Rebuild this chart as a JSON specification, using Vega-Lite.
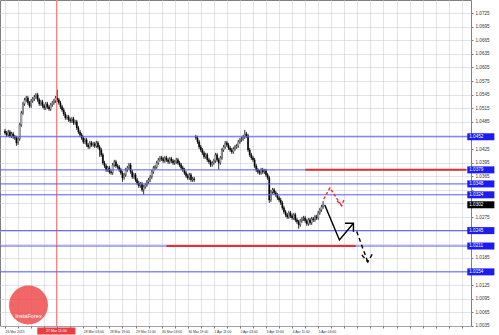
{
"$schema": "https://vega.github.io/schema/vega-lite/v6.json",
"width": 471, "height": 326,
"autosize": {"type": "none"},
"padding": {"left": 0, "top": 0, "right": 28, "bottom": 9},
"background": "#ffffff",
"config": {"view": {"stroke": "#808080", "strokeWidth": 1}, "font": "Liberation Sans",
"axis": {"labelOverlap": false, "labelFlush": false, "labelBound": false, "title": null}},
"datasets": {
"one": [{"n": 1}],
"candles": [
{"i":0,"o":1.04650,"h":1.04694,"l":1.04562,"c":1.04606},
{"i":1,"o":1.04606,"h":1.04650,"l":1.04518,"c":1.04562},
{"i":2,"o":1.04562,"h":1.04672,"l":1.04518,"c":1.04628},
{"i":3,"o":1.04628,"h":1.04672,"l":1.04496,"c":1.04540},
{"i":4,"o":1.04540,"h":1.04628,"l":1.04496,"c":1.04584},
{"i":5,"o":1.04584,"h":1.04628,"l":1.04474,"c":1.04518},
{"i":6,"o":1.04518,"h":1.04562,"l":1.04452,"c":1.04496},
{"i":7,"o":1.04496,"h":1.04540,"l":1.04319,"c":1.04386},
{"i":8,"o":1.04386,"h":1.04518,"l":1.04341,"c":1.04474},
{"i":9,"o":1.04474,"h":1.04827,"l":1.04430,"c":1.04783},
{"i":10,"o":1.04783,"h":1.05091,"l":1.04738,"c":1.05047},
{"i":11,"o":1.05047,"h":1.05290,"l":1.05003,"c":1.05246},
{"i":12,"o":1.05246,"h":1.05378,"l":1.05202,"c":1.05334},
{"i":13,"o":1.05334,"h":1.05422,"l":1.05290,"c":1.05378},
{"i":14,"o":1.05378,"h":1.05422,"l":1.05224,"c":1.05268},
{"i":15,"o":1.05268,"h":1.05312,"l":1.05158,"c":1.05202},
{"i":16,"o":1.05202,"h":1.05356,"l":1.05158,"c":1.05312},
{"i":17,"o":1.05312,"h":1.05400,"l":1.05268,"c":1.05356},
{"i":18,"o":1.05356,"h":1.05444,"l":1.05312,"c":1.05400},
{"i":19,"o":1.05400,"h":1.05488,"l":1.05356,"c":1.05444},
{"i":20,"o":1.05444,"h":1.05488,"l":1.05290,"c":1.05334},
{"i":21,"o":1.05334,"h":1.05378,"l":1.05202,"c":1.05246},
{"i":22,"o":1.05246,"h":1.05334,"l":1.05202,"c":1.05290},
{"i":23,"o":1.05290,"h":1.05334,"l":1.05158,"c":1.05202},
{"i":24,"o":1.05202,"h":1.05246,"l":1.05113,"c":1.05158},
{"i":25,"o":1.05158,"h":1.05290,"l":1.05113,"c":1.05246},
{"i":26,"o":1.05246,"h":1.05290,"l":1.05135,"c":1.05180},
{"i":27,"o":1.05180,"h":1.05224,"l":1.05091,"c":1.05135},
{"i":28,"o":1.05135,"h":1.05268,"l":1.05091,"c":1.05224},
{"i":29,"o":1.05224,"h":1.05312,"l":1.05180,"c":1.05268},
{"i":30,"o":1.05268,"h":1.05356,"l":1.05224,"c":1.05312},
{"i":31,"o":1.05312,"h":1.05422,"l":1.05268,"c":1.05378},
{"i":32,"o":1.05378,"h":1.05555,"l":1.05290,"c":1.05334},
{"i":33,"o":1.05334,"h":1.05378,"l":1.05224,"c":1.05268},
{"i":34,"o":1.05268,"h":1.05312,"l":1.05135,"c":1.05180},
{"i":35,"o":1.05180,"h":1.05224,"l":1.05069,"c":1.05113},
{"i":36,"o":1.05113,"h":1.05158,"l":1.04981,"c":1.05025},
{"i":37,"o":1.05025,"h":1.05069,"l":1.04893,"c":1.04937},
{"i":38,"o":1.04937,"h":1.05003,"l":1.04893,"c":1.04959},
{"i":39,"o":1.04959,"h":1.05003,"l":1.04849,"c":1.04893},
{"i":40,"o":1.04893,"h":1.04937,"l":1.04827,"c":1.04871},
{"i":41,"o":1.04871,"h":1.04959,"l":1.04827,"c":1.04915},
{"i":42,"o":1.04915,"h":1.04959,"l":1.04783,"c":1.04827},
{"i":43,"o":1.04827,"h":1.04893,"l":1.04783,"c":1.04849},
{"i":44,"o":1.04849,"h":1.04893,"l":1.04672,"c":1.04716},
{"i":45,"o":1.04716,"h":1.04761,"l":1.04584,"c":1.04628},
{"i":46,"o":1.04628,"h":1.04672,"l":1.04518,"c":1.04562},
{"i":47,"o":1.04562,"h":1.04606,"l":1.04452,"c":1.04496},
{"i":48,"o":1.04496,"h":1.04540,"l":1.04364,"c":1.04408},
{"i":49,"o":1.04408,"h":1.04496,"l":1.04364,"c":1.04452},
{"i":50,"o":1.04452,"h":1.04496,"l":1.04297,"c":1.04341},
{"i":51,"o":1.04341,"h":1.04386,"l":1.04253,"c":1.04297},
{"i":52,"o":1.04297,"h":1.04430,"l":1.04253,"c":1.04386},
{"i":53,"o":1.04386,"h":1.04430,"l":1.04297,"c":1.04341},
{"i":54,"o":1.04341,"h":1.04408,"l":1.04297,"c":1.04364},
{"i":55,"o":1.04364,"h":1.04408,"l":1.04275,"c":1.04319},
{"i":56,"o":1.04319,"h":1.04430,"l":1.04275,"c":1.04386},
{"i":57,"o":1.04386,"h":1.04430,"l":1.04253,"c":1.04297},
{"i":58,"o":1.04297,"h":1.04341,"l":1.04077,"c":1.04231},
{"i":59,"o":1.04231,"h":1.04275,"l":1.04077,"c":1.04121},
{"i":60,"o":1.04121,"h":1.04165,"l":1.03900,"c":1.03944},
{"i":61,"o":1.03944,"h":1.03989,"l":1.03834,"c":1.03878},
{"i":62,"o":1.03878,"h":1.03922,"l":1.03746,"c":1.03790},
{"i":63,"o":1.03790,"h":1.03878,"l":1.03746,"c":1.03834},
{"i":64,"o":1.03834,"h":1.03878,"l":1.03702,"c":1.03746},
{"i":65,"o":1.03746,"h":1.03790,"l":1.03680,"c":1.03724},
{"i":66,"o":1.03724,"h":1.03944,"l":1.03680,"c":1.03900},
{"i":67,"o":1.03900,"h":1.04011,"l":1.03856,"c":1.03967},
{"i":68,"o":1.03967,"h":1.04011,"l":1.03834,"c":1.03878},
{"i":69,"o":1.03878,"h":1.03922,"l":1.03812,"c":1.03856},
{"i":70,"o":1.03856,"h":1.03900,"l":1.03746,"c":1.03790},
{"i":71,"o":1.03790,"h":1.03834,"l":1.03680,"c":1.03724},
{"i":72,"o":1.03724,"h":1.03768,"l":1.03525,"c":1.03614},
{"i":73,"o":1.03614,"h":1.03724,"l":1.03570,"c":1.03680},
{"i":74,"o":1.03680,"h":1.03834,"l":1.03636,"c":1.03790},
{"i":75,"o":1.03790,"h":1.03878,"l":1.03746,"c":1.03834},
{"i":76,"o":1.03834,"h":1.03944,"l":1.03790,"c":1.03900},
{"i":77,"o":1.03900,"h":1.03944,"l":1.03702,"c":1.03746},
{"i":78,"o":1.03746,"h":1.03790,"l":1.03592,"c":1.03636},
{"i":79,"o":1.03636,"h":1.03724,"l":1.03592,"c":1.03680},
{"i":80,"o":1.03680,"h":1.03724,"l":1.03525,"c":1.03570},
{"i":81,"o":1.03570,"h":1.03614,"l":1.03459,"c":1.03503},
{"i":82,"o":1.03503,"h":1.03547,"l":1.03393,"c":1.03437},
{"i":83,"o":1.03437,"h":1.03525,"l":1.03393,"c":1.03481},
{"i":84,"o":1.03481,"h":1.03525,"l":1.03305,"c":1.03349},
{"i":85,"o":1.03349,"h":1.03459,"l":1.03239,"c":1.03415},
{"i":86,"o":1.03415,"h":1.03503,"l":1.03371,"c":1.03459},
{"i":87,"o":1.03459,"h":1.03570,"l":1.03415,"c":1.03525},
{"i":88,"o":1.03525,"h":1.03614,"l":1.03481,"c":1.03570},
{"i":89,"o":1.03570,"h":1.03680,"l":1.03525,"c":1.03636},
{"i":90,"o":1.03636,"h":1.03790,"l":1.03592,"c":1.03746},
{"i":91,"o":1.03746,"h":1.03878,"l":1.03702,"c":1.03834},
{"i":92,"o":1.03834,"h":1.03900,"l":1.03790,"c":1.03856},
{"i":93,"o":1.03856,"h":1.03989,"l":1.03812,"c":1.03944},
{"i":94,"o":1.03944,"h":1.04055,"l":1.03900,"c":1.04011},
{"i":95,"o":1.04011,"h":1.04099,"l":1.03967,"c":1.04055},
{"i":96,"o":1.04055,"h":1.04099,"l":1.03989,"c":1.04033},
{"i":97,"o":1.04033,"h":1.04077,"l":1.03944,"c":1.03989},
{"i":98,"o":1.03989,"h":1.04099,"l":1.03944,"c":1.04055},
{"i":99,"o":1.04055,"h":1.04099,"l":1.03967,"c":1.04011},
{"i":100,"o":1.04011,"h":1.04055,"l":1.03922,"c":1.03967},
{"i":101,"o":1.03967,"h":1.04077,"l":1.03922,"c":1.04033},
{"i":102,"o":1.04033,"h":1.04077,"l":1.03944,"c":1.03989},
{"i":103,"o":1.03989,"h":1.04033,"l":1.03900,"c":1.03944},
{"i":104,"o":1.03944,"h":1.04011,"l":1.03900,"c":1.03967},
{"i":105,"o":1.03967,"h":1.04055,"l":1.03922,"c":1.04011},
{"i":106,"o":1.04011,"h":1.04055,"l":1.03900,"c":1.03944},
{"i":107,"o":1.03944,"h":1.03989,"l":1.03856,"c":1.03900},
{"i":108,"o":1.03900,"h":1.03944,"l":1.03790,"c":1.03834},
{"i":109,"o":1.03834,"h":1.03878,"l":1.03746,"c":1.03790},
{"i":110,"o":1.03790,"h":1.03834,"l":1.03680,"c":1.03724},
{"i":111,"o":1.03724,"h":1.03768,"l":1.03614,"c":1.03658},
{"i":112,"o":1.03658,"h":1.03702,"l":1.03570,"c":1.03614},
{"i":113,"o":1.03614,"h":1.03724,"l":1.03570,"c":1.03680},
{"i":114,"o":1.03680,"h":1.03724,"l":1.03525,"c":1.03570},
{"i":115,"o":1.03570,"h":1.03636,"l":1.03525,"c":1.03592},
{"i":116,"o":1.03592,"h":1.03636,"l":1.03525,"c":1.03570},
{"i":117,"o":1.04518,"h":1.04562,"l":1.04452,"c":1.04496},
{"i":118,"o":1.04496,"h":1.04540,"l":1.04364,"c":1.04408},
{"i":119,"o":1.04408,"h":1.04452,"l":1.04253,"c":1.04297},
{"i":120,"o":1.04297,"h":1.04341,"l":1.04187,"c":1.04231},
{"i":121,"o":1.04231,"h":1.04275,"l":1.04121,"c":1.04165},
{"i":122,"o":1.04165,"h":1.04209,"l":1.04033,"c":1.04077},
{"i":123,"o":1.04077,"h":1.04165,"l":1.04033,"c":1.04121},
{"i":124,"o":1.04121,"h":1.04165,"l":1.03967,"c":1.04011},
{"i":125,"o":1.04011,"h":1.04055,"l":1.03922,"c":1.03967},
{"i":126,"o":1.03967,"h":1.04011,"l":1.03856,"c":1.03900},
{"i":127,"o":1.03900,"h":1.03989,"l":1.03856,"c":1.03944},
{"i":128,"o":1.03944,"h":1.04033,"l":1.03900,"c":1.03989},
{"i":129,"o":1.03989,"h":1.04165,"l":1.03944,"c":1.04121},
{"i":130,"o":1.04121,"h":1.04165,"l":1.03967,"c":1.04011},
{"i":131,"o":1.04011,"h":1.04055,"l":1.03790,"c":1.03944},
{"i":132,"o":1.03944,"h":1.04099,"l":1.03900,"c":1.04055},
{"i":133,"o":1.04055,"h":1.04275,"l":1.04011,"c":1.04231},
{"i":134,"o":1.04231,"h":1.04341,"l":1.04187,"c":1.04297},
{"i":135,"o":1.04297,"h":1.04430,"l":1.04253,"c":1.04386},
{"i":136,"o":1.04386,"h":1.04430,"l":1.04297,"c":1.04341},
{"i":137,"o":1.04341,"h":1.04386,"l":1.04231,"c":1.04275},
{"i":138,"o":1.04275,"h":1.04319,"l":1.04187,"c":1.04231},
{"i":139,"o":1.04231,"h":1.04275,"l":1.04143,"c":1.04187},
{"i":140,"o":1.04187,"h":1.04297,"l":1.04143,"c":1.04253},
{"i":141,"o":1.04253,"h":1.04341,"l":1.04209,"c":1.04297},
{"i":142,"o":1.04297,"h":1.04364,"l":1.04253,"c":1.04319},
{"i":143,"o":1.04319,"h":1.04452,"l":1.04275,"c":1.04408},
{"i":144,"o":1.04408,"h":1.04496,"l":1.04364,"c":1.04452},
{"i":145,"o":1.04452,"h":1.04518,"l":1.04408,"c":1.04474},
{"i":146,"o":1.04474,"h":1.04562,"l":1.04430,"c":1.04518},
{"i":147,"o":1.04518,"h":1.04672,"l":1.04474,"c":1.04584},
{"i":148,"o":1.04584,"h":1.04628,"l":1.04496,"c":1.04540},
{"i":149,"o":1.04540,"h":1.04584,"l":1.04187,"c":1.04231},
{"i":150,"o":1.04231,"h":1.04275,"l":1.04077,"c":1.04121},
{"i":151,"o":1.04121,"h":1.04165,"l":1.04011,"c":1.04055},
{"i":152,"o":1.04055,"h":1.04099,"l":1.03967,"c":1.04011},
{"i":153,"o":1.04011,"h":1.04055,"l":1.03834,"c":1.03878},
{"i":154,"o":1.03878,"h":1.03922,"l":1.03746,"c":1.03790},
{"i":155,"o":1.03790,"h":1.03834,"l":1.03702,"c":1.03746},
{"i":156,"o":1.03746,"h":1.03790,"l":1.03680,"c":1.03724},
{"i":157,"o":1.03724,"h":1.03834,"l":1.03680,"c":1.03790},
{"i":158,"o":1.03790,"h":1.03834,"l":1.03702,"c":1.03746},
{"i":159,"o":1.03746,"h":1.03812,"l":1.03702,"c":1.03768},
{"i":160,"o":1.03768,"h":1.03812,"l":1.03636,"c":1.03680},
{"i":161,"o":1.03680,"h":1.03724,"l":1.03570,"c":1.03614},
{"i":162,"o":1.03614,"h":1.03658,"l":1.03062,"c":1.03128},
{"i":163,"o":1.03128,"h":1.03349,"l":1.03084,"c":1.03305},
{"i":164,"o":1.03305,"h":1.03393,"l":1.03261,"c":1.03349},
{"i":165,"o":1.03349,"h":1.03393,"l":1.03239,"c":1.03283},
{"i":166,"o":1.03283,"h":1.03327,"l":1.03195,"c":1.03239},
{"i":167,"o":1.03239,"h":1.03283,"l":1.03128,"c":1.03173},
{"i":168,"o":1.03173,"h":1.03217,"l":1.03084,"c":1.03128},
{"i":169,"o":1.03128,"h":1.03173,"l":1.03018,"c":1.03062},
{"i":170,"o":1.03062,"h":1.03106,"l":1.02908,"c":1.02952},
{"i":171,"o":1.02952,"h":1.02996,"l":1.02820,"c":1.02864},
{"i":172,"o":1.02864,"h":1.02908,"l":1.02753,"c":1.02798},
{"i":173,"o":1.02798,"h":1.02842,"l":1.02709,"c":1.02753},
{"i":174,"o":1.02753,"h":1.02886,"l":1.02709,"c":1.02842},
{"i":175,"o":1.02842,"h":1.02886,"l":1.02731,"c":1.02776},
{"i":176,"o":1.02776,"h":1.02820,"l":1.02687,"c":1.02731},
{"i":177,"o":1.02731,"h":1.02842,"l":1.02687,"c":1.02798},
{"i":178,"o":1.02798,"h":1.02842,"l":1.02643,"c":1.02687},
{"i":179,"o":1.02687,"h":1.02731,"l":1.02599,"c":1.02643},
{"i":180,"o":1.02643,"h":1.02687,"l":1.02489,"c":1.02577},
{"i":181,"o":1.02577,"h":1.02709,"l":1.02533,"c":1.02665},
{"i":182,"o":1.02665,"h":1.02753,"l":1.02621,"c":1.02709},
{"i":183,"o":1.02709,"h":1.02776,"l":1.02665,"c":1.02731},
{"i":184,"o":1.02731,"h":1.02776,"l":1.02621,"c":1.02665},
{"i":185,"o":1.02665,"h":1.02709,"l":1.02555,"c":1.02599},
{"i":186,"o":1.02599,"h":1.02731,"l":1.02555,"c":1.02687},
{"i":187,"o":1.02687,"h":1.02731,"l":1.02577,"c":1.02621},
{"i":188,"o":1.02621,"h":1.02753,"l":1.02577,"c":1.02709},
{"i":189,"o":1.02709,"h":1.02753,"l":1.02643,"c":1.02687},
{"i":190,"o":1.02687,"h":1.02798,"l":1.02643,"c":1.02753},
{"i":191,"o":1.02753,"h":1.02798,"l":1.02687,"c":1.02731},
{"i":192,"o":1.02731,"h":1.02886,"l":1.02687,"c":1.02842},
{"i":193,"o":1.02842,"h":1.02952,"l":1.02798,"c":1.02908},
{"i":194,"o":1.02908,"h":1.03018,"l":1.02864,"c":1.02974},
{"i":195,"o":1.02974,"h":1.03106,"l":1.02930,"c":1.03018}
],
"levels": [
{"p":1.0452,"kind":"blue"},
{"p":1.0379,"kind":"blue"},
{"p":1.0348,"kind":"blue"},
{"p":1.0324,"kind":"blue"},
{"p":1.0245,"kind":"blue"},
{"p":1.0211,"kind":"blue"},
{"p":1.0154,"kind":"blue"},
{"p":1.0302,"kind":"bid"}
],
"reds": [
{"i1":184.2,"i2":282.6,"p":1.0379},
{"i1":99,"i2":215,"p":1.0211}
],
"arrows": [
{"g":"red","s":1,"k":1,"i":195.4,"p":1.03144},
{"g":"red","s":1,"k":2,"i":199.2,"p":1.03393},
{"g":"red","s":1,"k":3,"i":206.4,"p":1.02996},
{"g":"red","s":2,"k":1,"i":203.6,"p":1.03106},
{"g":"red","s":2,"k":2,"i":206.4,"p":1.02996},
{"g":"red","s":2,"k":3,"i":208.0,"p":1.03150},
{"g":"black","s":3,"k":1,"i":196,"p":1.03018},
{"g":"black","s":3,"k":2,"i":205,"p":1.02243},
{"g":"black","s":3,"k":3,"i":213.6,"p":1.02614},
{"g":"black","s":4,"k":1,"i":208.4,"p":1.02614},
{"g":"black","s":4,"k":2,"i":213.6,"p":1.02614},
{"g":"black","s":4,"k":3,"i":213.6,"p":1.02423},
{"g":"blackdash","s":5,"k":1,"i":215.6,"p":1.02430},
{"g":"blackdash","s":5,"k":2,"i":222.4,"p":1.01757},
{"g":"blackdash","s":6,"k":1,"i":218.8,"p":1.01912},
{"g":"blackdash","s":6,"k":2,"i":222.4,"p":1.01757},
{"g":"blackdash","s":6,"k":3,"i":225.6,"p":1.01963}
]
},
"layer": [
{
"data": {"name": "candles"},
"mark": {"type": "rule", "color": "#000000", "strokeWidth": 0.8},
"encoding": {
"x": {"field": "i", "type": "quantitative",
"scale": {"domain": [0, 282.6], "nice": false, "zero": false},
"axis": {"values": [0,8,16,24,32,40,48,56,64,72,80,88,96,104,112,120,128,136,144,152,160,168,176,184,192,200,208,216,224,232,240,248,256,264,272,280],
"tickCount": 200,
"labelExpr": "datum.value == 0 ? '26 Mar 2015' : datum.value == 48 ? '28 Mar 03:00' : datum.value == 64 ? '28 Mar 19:00' : datum.value == 80 ? '29 Mar 11:00' : datum.value == 96 ? '30 Mar 03:00' : datum.value == 112 ? '30 Mar 19:00' : datum.value == 128 ? '1 Apr 11:00' : datum.value == 144 ? '2 Apr 03:00' : datum.value == 160 ? '3 Apr 19:00' : datum.value == 176 ? '4 Apr 11:00' : datum.value == 192 ? '5 Apr 03:00' : ''",
"grid": true, "gridColor": "#c4c4d0", "gridDash": [1, 1], "gridWidth": 1,
"tickSize": 2, "tickColor": "#777777", "domain": false,
"labelAlign": "left", "labelBaseline": "top", "labelPadding": 1, "labelFontSize": 3.4, "labelColor": "#333333",
"title": null, "labelOverlap": false, "labelBound": false, "labelFlush": false}},
"y": {"field": "l", "type": "quantitative",
"scale": {"domain": [1.00346, 1.07537], "nice": false, "zero": false},
"axis": {"orient": "right", "values": [1.0035,1.0065,1.0095,1.0125,1.0155,1.0185,1.0215,1.0245,1.0275,1.0305,1.0335,1.0365,1.0395,1.0425,1.0455,1.0485,1.0515,1.0545,1.0575,1.0605,1.0635,1.0665,1.0695,1.0725],
"tickCount": 200,
"labelExpr": "(abs(datum.value-1.0155)<0.0001 || abs(datum.value-1.0215)<0.0001 || abs(datum.value-1.0245)<0.0001 || abs(datum.value-1.0305)<0.0001 || abs(datum.value-1.0335)<0.0001 || abs(datum.value-1.0455)<0.0001) ? '' : format(datum.value, '.4f')",
"grid": true, "gridColor": "#c4c4d0", "gridDash": [1, 1], "gridWidth": 1,
"tickSize": 2, "tickColor": "#777777", "domain": false,
"labelFontSize": 4.6, "labelColor": "#333333", "labelPadding": 2,
"title": null, "labelOverlap": false, "labelFlush": false, "labelBound": false}},
"y2": {"field": "h"}
}
},
{
"data": {"name": "candles"},
"mark": {"type": "bar", "width": 1.2, "stroke": "#000000", "strokeWidth": 0.4},
"encoding": {
"x": {"field": "i", "type": "quantitative"},
"y": {"field": "o", "type": "quantitative"},
"y2": {"field": "c"},
"fill": {"condition": {"test": "datum.c > datum.o", "value": "#ffffff"}, "value": "#000000"}
}
},
{
"data": {"name": "one"},
"mark": {"type": "rule", "color": "#f08080", "strokeWidth": 1},
"encoding": {"x": {"datum": 31.6, "type": "quantitative"}}
},
{
"data": {"name": "levels"},
"transform": [{"filter": "datum.kind == 'blue'"}],
"mark": {"type": "rule", "color": "#5a5af0", "strokeWidth": 1},
"encoding": {"y": {"field": "p", "type": "quantitative"}}
},
{
"data": {"name": "reds"},
"mark": {"type": "rule", "color": "#e83030", "strokeWidth": 2},
"encoding": {
"x": {"field": "i1", "type": "quantitative"},
"x2": {"field": "i2"},
"y": {"field": "p", "type": "quantitative"}
}
},
{
"data": {"name": "arrows"},
"transform": [{"filter": "datum.g == 'red'"}],
"mark": {"type": "line", "color": "#e83030", "strokeWidth": 1.4, "strokeDash": [3, 2]},
"encoding": {
"x": {"field": "i", "type": "quantitative"},
"y": {"field": "p", "type": "quantitative"},
"detail": {"field": "s"},
"order": {"field": "k"}
}
},
{
"data": {"name": "arrows"},
"transform": [{"filter": "datum.g == 'black'"}],
"mark": {"type": "line", "color": "#000000", "strokeWidth": 1.4},
"encoding": {
"x": {"field": "i", "type": "quantitative"},
"y": {"field": "p", "type": "quantitative"},
"detail": {"field": "s"},
"order": {"field": "k"}
}
},
{
"data": {"name": "arrows"},
"transform": [{"filter": "datum.g == 'blackdash'"}],
"mark": {"type": "line", "color": "#000000", "strokeWidth": 1.4, "strokeDash": [4, 3]},
"encoding": {
"x": {"field": "i", "type": "quantitative"},
"y": {"field": "p", "type": "quantitative"},
"detail": {"field": "s"},
"order": {"field": "k"}
}
},
{
"data": {"name": "levels"},
"mark": {"type": "rule", "strokeWidth": 7, "strokeCap": "butt"},
"encoding": {
"x": {"datum": 283.4, "type": "quantitative"},
"x2": {"datum": 300},
"y": {"field": "p", "type": "quantitative"},
"color": {"condition": {"test": "datum.kind == 'bid'", "value": "#000000"}, "value": "#1c1cf0"}
}
},
{
"data": {"name": "levels"},
"mark": {"type": "text", "align": "left", "baseline": "middle", "fontSize": 4.6, "color": "#ffffff"},
"encoding": {
"x": {"datum": 284.6, "type": "quantitative"},
"y": {"field": "p", "type": "quantitative"},
"text": {"field": "p", "type": "quantitative", "format": ".4f"}
}
},
{
"data": {"name": "one"},
"mark": {"type": "rule", "strokeWidth": 7, "strokeCap": "butt", "color": "#e84040"},
"encoding": {
"x": {"datum": 19.8, "type": "quantitative"},
"x2": {"datum": 43.2},
"y": {"datum": 1.00235, "type": "quantitative"}
}
},
{
"data": {"name": "one"},
"mark": {"type": "text", "align": "center", "baseline": "middle", "fontSize": 3.6, "color": "#ffffff"},
"encoding": {
"x": {"datum": 31.5, "type": "quantitative"},
"y": {"datum": 1.00235, "type": "quantitative"},
"text": {"value": "27 Mar 11:00"}
}
},
{
"data": {"name": "one"},
"mark": {"type": "point", "shape": "circle", "filled": true, "size": 1520, "color": "#ee4c4c", "opacity": 0.85},
"encoding": {
"x": {"datum": 14.4, "type": "quantitative"},
"y": {"datum": 1.00810, "type": "quantitative"}
}
},
{
"data": {"name": "one"},
"mark": {"type": "text", "align": "center", "baseline": "middle", "fontSize": 5.6, "color": "#ffffff"},
"encoding": {
"x": {"datum": 14.4, "type": "quantitative"},
"y": {"datum": 1.00567, "type": "quantitative"},
"text": {"value": "InstaForex"}
}
}
]
}
